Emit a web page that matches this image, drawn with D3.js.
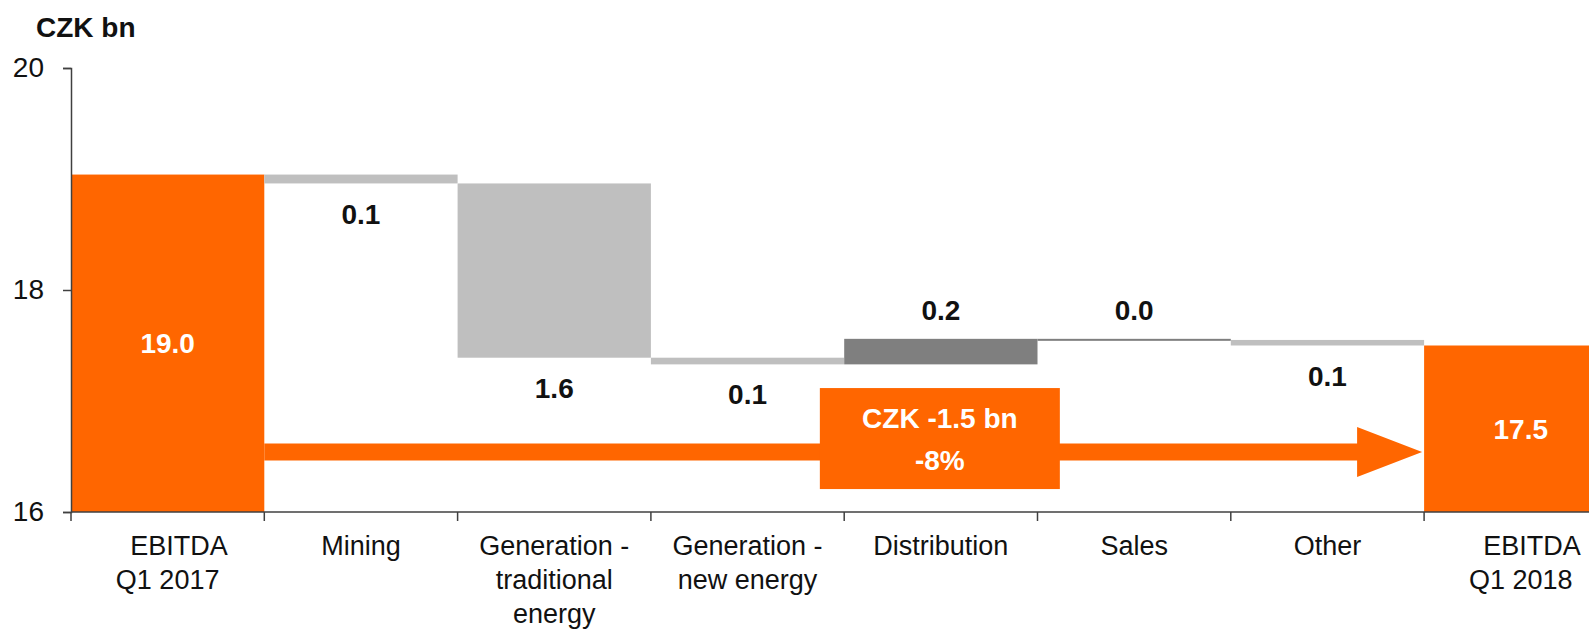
<!DOCTYPE html>
<html>
<head>
<meta charset="utf-8">
<script src="https://cdn.jsdelivr.net/npm/d3@7"></script>
<style>
html, body { margin: 0; padding: 0; background: #fff; overflow: hidden; }
svg { display: block; font-family: "Liberation Sans", Arial, sans-serif; }
</style>
</head>
<body>
<svg id="chart" width="1589" height="630"></svg>
<script>
const WIDTH = 1589;
const HEIGHT = 630;
const ORANGE = '#ff6600';
const LIGHT_GREY = '#bfbfbf';
const DARK_GREY = '#7f7f7f';
const TEXT_COLOR = '#111';

// chart data
const categories = ["EBITDA Q1 2017", "Mining", "Generation - traditional energy", "Generation - new energy",
    "Distribution", "Sales", "Other", "EBITDA Q1 2018"];
const categoryLines = [
    ["\u00a0\u00a0\u00a0EBITDA", "Q1 2017"],
    ["Mining"],
    ["Generation -", "traditional", "energy"],
    ["Generation -", "new energy"],
    ["Distribution"],
    ["Sales"],
    ["Other"],
    ["\u00a0\u00a0\u00a0EBITDA", "Q1 2018"]
];
const values = [19.04, -0.08, -1.57, -0.06, 0.23, -0.01, -0.05, 17.50];
const valueLabels = ["19.0", "0.1", "1.6", "0.1", "0.2", "0.0", "0.1", "17.5"];
const barTypes = ["total", "down", "down", "down", "up", "flat", "down", "total"];
const yTicks = [16, 18, 20];
const yDomain = [16, 20];
const changeLines = ["CZK -1.5 bn", "-8%"];
const unitLabel = "CZK bn";

const svg = d3.select("#chart");

const x = d3.scaleBand()
    .domain(categories)
    .range([71, 71 + 8 * 193.3])
    .padding(0);
const y = d3.scaleLinear()
    .domain(yDomain)
    .range([512, 68]);

// build waterfall segments
const data = [];
let level = 0;
categories.forEach((cat, i) => {
    const v = values[i];
    if (barTypes[i] === "total") {
        data.push({ cat: cat, lo: yDomain[0], hi: v, type: "total", label: valueLabels[i] });
        level = v;
    } else {
        const end = level + v;
        data.push({ cat: cat, lo: Math.min(level, end), hi: Math.max(level, end), type: barTypes[i], label: valueLabels[i] });
        level = end;
    }
});

const fillFor = { total: ORANGE, down: LIGHT_GREY, up: DARK_GREY, flat: DARK_GREY };

svg.append("g").selectAll("rect")
    .data(data)
    .enter()
    .append("rect")
    .attr("x", d => x(d.cat))
    .attr("width", x.bandwidth())
    .attr("y", d => y(d.hi))
    .attr("height", d => Math.max(d.type === "flat" ? 2 : 1, y(d.lo) - y(d.hi)))
    .attr("fill", d => fillFor[d.type]);

// arrow from first total to last total
const bw = x.bandwidth();
const arrowY = y(16.54);
const arrowStart = x(categories[0]) + bw;
const arrowTip = x(categories[categories.length - 1]) - 2;
const headLen = 65, headHalf = 25, shaftHalf = 8.5;
svg.append("path")
    .attr("fill", ORANGE)
    .attr("d", d3.line()([
        [arrowStart, arrowY - shaftHalf],
        [arrowTip - headLen, arrowY - shaftHalf],
        [arrowTip - headLen, arrowY - headHalf],
        [arrowTip, arrowY],
        [arrowTip - headLen, arrowY + headHalf],
        [arrowTip - headLen, arrowY + shaftHalf],
        [arrowStart, arrowY + shaftHalf]
    ]) + "Z");

// change box
const boxCx = x("Distribution") + bw / 2 - 1;
const boxCy = arrowY - 13.5;
const boxW = 240, boxH = 101;
svg.append("rect")
    .attr("x", boxCx - boxW / 2)
    .attr("y", boxCy - boxH / 2)
    .attr("width", boxW)
    .attr("height", boxH)
    .attr("fill", ORANGE);
svg.append("g").selectAll("text")
    .data(changeLines)
    .enter()
    .append("text")
    .attr("x", boxCx)
    .attr("y", (d, i) => boxCy - 20.5 + i * 42)
    .attr("dy", "0.36em")
    .attr("text-anchor", "middle")
    .attr("fill", "#fff")
    .attr("font-weight", "bold")
    .attr("font-size", 28)
    .text(d => d);

// value labels
svg.append("g").selectAll("text")
    .data(data)
    .enter()
    .append("text")
    .attr("x", d => x(d.cat) + bw / 2)
    .attr("y", d => {
        if (d.type === "total") return (y(d.hi) + y(d.lo)) / 2;
        if (d.type === "down") return y(d.lo) + 30;
        return y(d.hi) - 29;
    })
    .attr("dy", "0.36em")
    .attr("text-anchor", "middle")
    .attr("font-weight", "bold")
    .attr("font-size", 28)
    .attr("fill", d => d.type === "total" ? "#fff" : TEXT_COLOR)
    .text(d => d.label);

// y axis
const yAxis = svg.append("g")
    .attr("transform", "translate(71,0)")
    .call(d3.axisLeft(y).tickValues(yTicks).tickSize(8).tickSizeOuter(8).tickPadding(19).tickFormat(d3.format("d")));
yAxis.selectAll("path, line").attr("stroke", "#404040").attr("stroke-width", 1.5);
yAxis.selectAll("text")
    .attr("font-size", 28)
    .attr("font-family", "Liberation Sans, Arial, sans-serif")
    .attr("fill", TEXT_COLOR);

// x axis: line plus boundary ticks
const xAxis = svg.append("g")
    .attr("transform", "translate(0,512)")
    .call(d3.axisBottom(x).tickSize(0).tickSizeOuter(0).tickFormat(""));
xAxis.selectAll("path").attr("stroke", "#404040").attr("stroke-width", 1.5);
xAxis.selectAll("path").attr("d", "M71,0H" + WIDTH);
svg.append("g").selectAll("line")
    .data(categories)
    .enter()
    .append("line")
    .attr("x1", d => x(d))
    .attr("x2", d => x(d))
    .attr("y1", 512)
    .attr("y2", 521)
    .attr("stroke", "#404040")
    .attr("stroke-width", 1.5);

// category labels
const catText = svg.append("g").selectAll("text")
    .data(categories)
    .enter()
    .append("text")
    .attr("x", d => x(d) + bw / 2)
    .attr("y", 546)
    .attr("text-anchor", "middle")
    .attr("font-size", 27)
    .attr("fill", TEXT_COLOR);
catText.selectAll("tspan")
    .data((d, i) => categoryLines[i])
    .enter()
    .append("tspan")
    .attr("x", function () { return d3.select(this.parentNode).attr("x"); })
    .attr("y", (d, i) => 546 + i * 34)
    .attr("dy", "0.35em")
    .text(d => d);

// unit label
svg.append("text")
    .attr("x", 36)
    .attr("y", 37)
    .attr("font-size", 28)
    .attr("font-weight", "bold")
    .attr("fill", TEXT_COLOR)
    .text(unitLabel);
</script>
</body>
</html>
